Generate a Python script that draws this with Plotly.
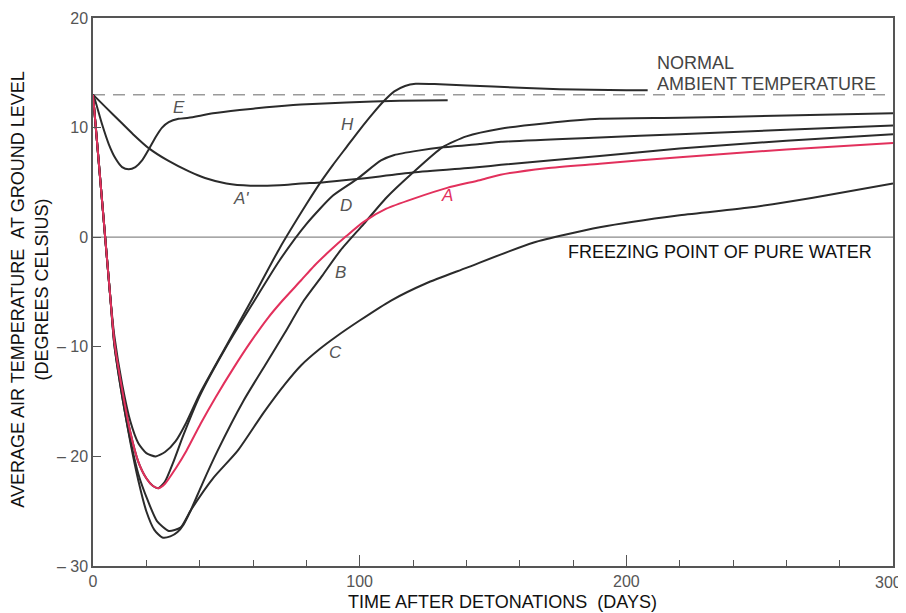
import plotly.graph_objects as go

# ---- data (days after detonation, average temperature in deg C) ----
days_H = [0, 2, 4, 6.5, 8, 11, 14, 17, 20, 23.5, 27, 31, 35, 40, 50, 60, 70, 80, 85.3, 90, 95, 100, 105, 109, 113, 117, 121, 130, 150, 175, 200, 208]
temp_H = [13, 7.3, 1.6, -5.5, -9, -13.5, -16.8, -18.8, -19.7, -20.0, -19.6, -18.6, -16.9, -14.3, -9.9, -5.5, -1.0, 3.0, 5.0, 6.6, 8.2, 9.8, 11.3, 12.4, 13.3, 13.8, 14.0, 13.95, 13.75, 13.5, 13.4, 13.4]

days_D = [0, 2, 4, 6.5, 8, 11, 14, 17, 20, 22.5, 24.5, 27, 30, 34, 40, 50, 60, 70, 80, 90, 99, 108, 113, 122, 131, 145, 153, 190, 220, 260, 300]
temp_D = [13, 7.3, 1.6, -5.5, -9.5, -14, -17.8, -20.5, -22, -22.7, -22.9, -22.3, -20.6, -18, -14.5, -10.0, -6.0, -2.1, 1.2, 3.8, 5.3, 7.0, 7.5, 7.9, 8.2, 8.5, 8.7, 9.1, 9.4, 9.8, 10.2]

days_A = [0, 2, 4, 6.5, 8, 11, 14, 17, 20, 22.5, 24.7, 27, 31, 35, 40.4, 46, 52.8, 59, 65.5, 71, 77.8, 83, 89, 95, 101.5, 110, 120, 132.8, 145, 152.8, 170, 190, 220, 260, 300]
temp_A = [13, 7.3, 1.6, -5.5, -9.5, -14, -17.8, -20.5, -22, -22.7, -22.9, -22.5, -21.1, -19.5, -17.0, -14.6, -11.9, -9.6, -7.4, -5.8, -4.0, -2.6, -1.2, 0.1, 1.4, 2.6, 3.5, 4.5, 5.2, 5.7, 6.3, 6.7, 7.3, 8.0, 8.6]

days_B = [0, 2, 4, 6.5, 8, 11, 14, 17, 20, 23, 26, 29, 31.7, 34, 36.7, 41, 46.7, 56.5, 65, 72, 79, 86, 92.8, 101.5, 110, 120, 131, 140, 152.8, 170, 190, 220, 260, 300]
temp_B = [13, 7.3, 1.6, -5.5, -9.8, -14.6, -18.7, -22.2, -25, -26.7, -27.4, -27.3, -26.9, -26.2, -24.9, -22.5, -19.5, -14.9, -11.5, -8.7, -5.8, -3.5, -1.2, 1.2, 3.6, 5.9, 8.2, 9.2, 9.9, 10.4, 10.8, 10.9, 11.1, 11.3]

days_C = [0, 2, 4, 6.5, 8, 11, 14, 17, 20.5, 24, 28.4, 32.8, 36.7, 45, 54.2, 64, 72, 78, 85, 91, 100, 111.6, 125, 140, 165, 190, 220, 246, 270, 300]
temp_C = [13, 7.3, 1.6, -5.5, -9.8, -14.6, -18.5, -21.6, -24, -25.9, -26.8, -26.5, -24.9, -22, -19.5, -16.0, -13.4, -11.7, -10.2, -9.1, -7.6, -5.8, -4.2, -2.8, -0.5, 0.9, 2.0, 2.7, 3.6, 4.9]

days_Ap = [0, 5, 10, 15, 21, 28, 36, 42, 50, 59, 70, 78, 86, 99, 120, 145, 153, 190, 220, 260, 300]
temp_Ap = [13, 11.8, 10.6, 9.4, 8.1, 7.0, 6.0, 5.4, 4.9, 4.7, 4.75, 4.9, 5.0, 5.3, 5.9, 6.4, 6.6, 7.4, 8.1, 8.8, 9.4]

days_E = [0, 0.9, 3.4, 5.9, 8.4, 10.9, 13.4, 15.9, 18.4, 20.9, 23.4, 25.9, 28.4, 32.1, 35.9, 45, 55, 65, 78, 95, 115, 133]
temp_E = [13, 12.4, 10.3, 8.5, 7.2, 6.4, 6.2, 6.4, 7.0, 8.0, 9.1, 10.0, 10.5, 10.8, 10.9, 11.3, 11.6, 11.85, 12.1, 12.3, 12.45, 12.5]

ambient_temp = 13
freezing_temp = 0
x_ticks = [0, 100, 200, 300]
x_ticktext = ["0", "100", "200", ""]
x_last_label = "300"
y_ticks = [-30, -20, -10, 0, 10, 20]
y_ticktext = ["\u2013 30", "\u2013 20", "\u2013 10", "0", "10", "20"]

BLACK = "#2b2b2b"
RED = "#e2305c"
GRAY = "#555555"
FONT = "Liberation Sans, Arial, sans-serif"

fig = go.Figure()

curves = [
    (days_Ap, temp_Ap, BLACK),
    (days_E, temp_E, BLACK),
    (days_C, temp_C, BLACK),
    (days_B, temp_B, BLACK),
    (days_D, temp_D, BLACK),
    (days_H, temp_H, BLACK),
    (days_A, temp_A, RED),
]
for xs, ys, col in curves:
    fig.add_trace(go.Scatter(x=xs, y=ys, mode="lines",
                             line=dict(color=col, width=2, shape="spline", smoothing=0.6),
                             hoverinfo="skip", showlegend=False))

fig.add_shape(type="line", x0=0, x1=300, y0=ambient_temp, y1=ambient_temp, layer="below",
              line=dict(color="#9a9a9a", width=1.5, dash="12px,8px"))
fig.add_shape(type="line", x0=0, x1=300, y0=freezing_temp, y1=freezing_temp, layer="below",
              line=dict(color="#8a8a8a", width=1.2))

def lab(x, y, text, color=GRAY, size=17, xanchor="center"):
    fig.add_annotation(x=x, y=y, xref="x", yref="y", text=text, showarrow=False,
                       xanchor=xanchor, yanchor="middle",
                       font=dict(family=FONT, size=size, color=color))

lab(32.1, 11.8, "<i>E</i>")
lab(55.4, 3.5, "<i>A'</i>")
lab(95.4, 10.25, "<i>H</i>")
lab(94.7, 2.9, "<i>D</i>")
lab(92.8, -3.2, "<i>B</i>")
lab(90.9, -10.5, "<i>C</i>")
lab(132.9, 3.8, "<i>A</i>", color=RED)
lab(210.8, 15.9, "NORMAL", color="#444444", size=18, xanchor="left")
lab(210.8, 14.0, "AMBIENT TEMPERATURE", color="#444444", size=18, xanchor="left")
lab(177.5, -1.35, "FREEZING POINT OF PURE WATER", color="#111111", size=18, xanchor="left")

# last x tick label, nudged left so it stays inside the page
fig.add_annotation(x=x_ticks[-1], y=0, xref="x", yref="paper", text=x_last_label,
                   showarrow=False, xanchor="right", yanchor="middle", xshift=11, yshift=-16,
                   font=dict(family=FONT, size=16, color=GRAY))

# axis titles
fig.add_annotation(xref="paper", yref="paper", x=(30 - 93) / 800, y=(566.5 - 290) / 548.5,
                   text="AVERAGE AIR TEMPERATURE\u00a0\u00a0AT GROUND LEVEL<br>(DEGREES CELSIUS)",
                   textangle=-90, showarrow=False, xanchor="center", yanchor="middle",
                   font=dict(family=FONT, size=18, color="#111111"))
fig.add_annotation(xref="paper", yref="paper", x=(502 - 93) / 800, y=-(603 - 566.5) / 548.5,
                   text="TIME AFTER DETONATIONS\u00a0\u00a0(DAYS)",
                   showarrow=False, xanchor="center", yanchor="middle",
                   font=dict(family=FONT, size=18, color="#111111"))

# the page body adds an 8px offset; size the figure so it fits the 906x613 window
fig.update_layout(
    width=898, height=605,
    margin=dict(l=85, r=13, t=10, b=46.5, autoexpand=False),
    paper_bgcolor="white", plot_bgcolor="white",
    showlegend=False,
    xaxis=dict(range=[0, 300], tickvals=x_ticks, ticktext=x_ticktext, ticks="inside",
               ticklen=11, tickwidth=1.2,
               tickcolor=GRAY, showline=True, linecolor=GRAY, linewidth=1.5, mirror=True,
               showgrid=False, zeroline=False, automargin=False,
               tickfont=dict(family=FONT, size=16, color=GRAY),
               minor=dict(dtick=20, tick0=0, ticks="inside", ticklen=6, tickwidth=1.2,
                          tickcolor=GRAY, showgrid=False)),
    yaxis=dict(range=[-30, 20], tickvals=y_ticks, ticktext=y_ticktext, ticks="inside",
               ticklen=8, tickwidth=1.2, tickcolor=GRAY, showline=True, linecolor=GRAY,
               linewidth=1.5, mirror=True, showgrid=False, zeroline=False, automargin=False,
               tickfont=dict(family=FONT, size=16, color=GRAY)),
)

fig.write_html("out.html")
